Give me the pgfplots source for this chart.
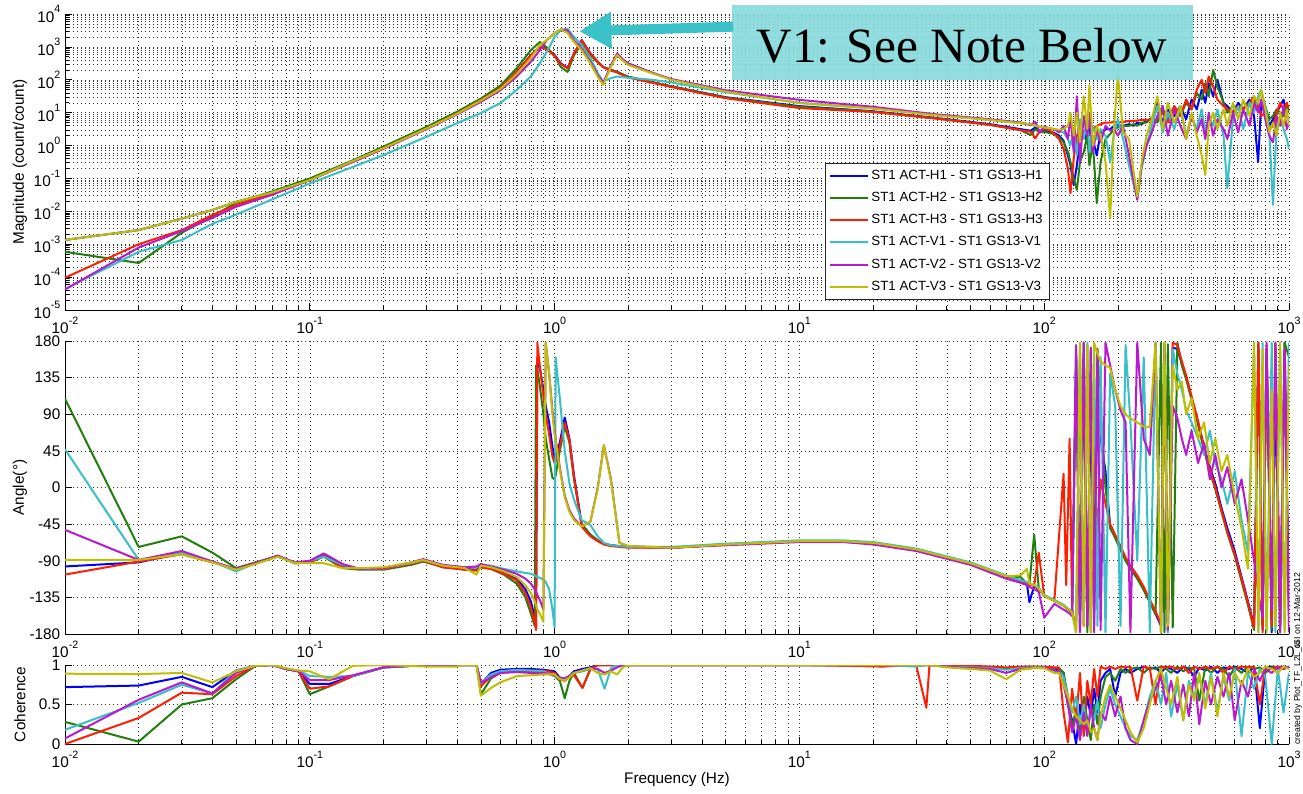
\documentclass[border=0pt]{standalone}
\usepackage{fontspec}
\setmainfont{Liberation Sans}
\newfontfamily\annofont{Liberation Serif}
\usepackage{pgfplots}
\usepackage{pgfplotstable}
\pgfplotsset{compat=1.18}
\usetikzlibrary{arrows.meta}

\definecolor{cH1}{rgb}{0,0,1}
\definecolor{cH2}{rgb}{0.13,0.5,0.05}
\definecolor{cH3}{rgb}{1,0.12,0}
\definecolor{cV1}{rgb}{0.22,0.75,0.78}
\definecolor{cV2}{rgb}{0.72,0.1,0.82}
\definecolor{cV3}{rgb}{0.75,0.75,0}
\definecolor{annofill}{HTML}{86D9DC}
\definecolor{annoarrow}{HTML}{3BC2C8}

% MATLAB-style power-of-ten tick label
\newcommand{\tp}[1]{10\raisebox{0.62em}{\fontsize{8}{8}\selectfont #1}}

% magnitude (count/count)
\pgfplotstableread{
f H1 H2 H3 V1 V2 V3
0.01 1.35e-3 5.89e-4 9.55e-5 4.37e-5 4.2e-5 1.35e-3
0.02 2.69e-3 2.69e-4 1.0e-3 5.89e-4 7.94e-4 2.69e-3
0.03 6.03e-3 2.24e-3 2.69e-3 1.35e-3 2.51e-3 6.03e-3
0.04 1.10e-2 7.08e-3 7.76e-3 4.17e-3 6.31e-3 1.10e-2
0.05 1.95e-2 1.82e-2 1.55e-2 7.94e-3 1.38e-2 1.95e-2
0.07 3.72e-2 3.98e-2 3.55e-2 2.29e-2 3.16e-2 3.72e-2
0.1 8.91e-2 1.0e-1 8.91e-2 7.08e-2 8.91e-2 8.91e-2
0.15 3.39e-1 3.55e-1 3.31e-1 2.24e-1 3.16e-1 3.39e-1
0.2 8.51e-1 9.33e-1 8.32e-1 5.13e-1 7.94e-1 8.32e-1
0.3 3.39 3.72 3.31 1.86 3.16 3.31
0.4 9.77 10.7 9.55 4.79 8.91 9.33
0.5 24.5 26.9 24.0 9.77 21.4 23.4
0.6 56.2 66.1 56.2 19.5 47.9 52.5
0.7 174 224 174 49.0 126 148
0.8 562 794 562 126 355 457
0.87 1000 1410 1000 316 794 1150
0.93 891 955 851 708 1620 1620
1.0 562 537 525 2000 2630 2630
1.06 316 245 302 3240 3390 3390
1.13 229 174 224 3550 3160 2630
1.2 631 562 631 2000 1580 1410
1.29 1620 1260 1580 1150 891 794
1.4 631 562 631 457 355 316
1.5 355 339 355 158 141 123
1.58 245 240 240 89.1 79.4 69.2
1.7 200 200 191 112 282 251
1.8 174 174 166 126 631 562
1.9 145 145 138 120 417 380
2.0 123 123 117 115 316 282
2.5 85.1 85.1 81.3 100 166 158
3 63.1 63.1 60.3 83.2 105 100
5 29.5 28.8 27.5 41.7 47.9 43.7
10 15.8 15.1 13.8 20.0 24.5 19.5
20 11.0 10.7 10.5 13.5 15.1 13.5
35 7.08 6.92 6.76 8.71 9.12 8.51
60 4.47 4.27 4.27 6.03 6.31 6.03
80 3.16 2.95 2.95 4.79 5.01 4.79
88 2.82 2.09 2.63 4.37 4.17 4.47
92 3.55 3.16 1.66 3.98 5.25 3.98
96 2.63 2.51 2.82 3.72 2.51 3.72
100 2.82 2.63 3.16 3.55 3.80 3.55
105 2.75 2.40 2.95 3.31 3.31 3.39
110 2.40 2.24 2.24 3.16 3.16 3.16
115 2.0 1.78 1.58 2.82 2.51 3.02
120 1.41 1.26 0.794 2.51 3.98 3.16
125 0.501 0.631 0.200 1.58 1.58 3.98
128 0.251 0.316 0.0355 1.0 7.94 10
132 0.0631 0.1 0.398 3.16 0.631 2.0
136 0.251 0.0447 2.0 0.501 31.6 10
140 1.58 0.316 3.16 6.31 0.316 1.26
145 2.51 0.631 2.51 1.58 7.94 31.6
150 1.26 2.0 3.55 7.94 2.0 3.16
153 3.16 0.251 3.98 0.631 10 69.2
158 1.58 1.26 3.16 3.98 0.631 1.0
164 0.501 0.0178 3.98 1.58 3.16 3.98
170 2.51 0.316 4.47 3.16 1.26 2.0
178 3.16 1.58 5.01 2.0 3.98 0.316
186 3.16 2.24 5.01 0.316 2.82 0.00631
193 3.98 3.16 5.25 2.51 3.16 3.98
200 4.17 3.55 5.01 6.31 2.0 141
210 3.98 3.98 5.25 1.58 3.98 2.51
222 4.47 3.98 5.62 0.251 0.501 1.58
232 3.98 4.47 5.62 0.0631 0.0794 0.158
240 5.01 3.98 5.75 0.0251 0.0224 0.0282
250 4.47 5.01 6.03 0.200 0.251 0.316
262 5.62 5.01 6.03 1.0 1.0 2.0
275 6.31 7.08 6.31 3.98 2.51 6.31
290 20.0 5.01 6.31 15.8 7.94 31.6
305 5.01 12.6 10 2.51 15.8 3.16
320 12.6 6.31 5.01 10 2.0 20.0
340 7.94 15.8 15.8 3.16 12.6 5.01
360 15.8 7.94 7.94 15.8 3.98 15.8
380 6.31 20.0 25.1 2.0 1.58 1.58
400 25.1 12.6 12.6 7.94 7.94 10
420 12.6 39.8 50.1 3.16 2.51 2.0
440 50.1 25.1 100 12.6 6.31 0.501
455 20.0 79.4 39.8 2.51 1.58 0.126
470 79.4 31.6 126 7.94 10 3.98
490 31.6 200 63.1 3.98 2.0 10
510 100 63.1 25.1 12.6 6.31 3.16
540 20.0 20.0 15.8 2.0 3.16 12.6
560 15.8 10 12.6 0.0501 1.58 3.98
590 10 15.8 10 6.31 10 20.0
620 20.0 12.6 15.8 15.8 2.51 6.31
650 12.6 20.0 12.6 3.16 12.6 25.1
690 25.1 15.8 20.0 20.0 3.98 7.94
720 7.94 25.1 31.6 10 20.0 31.6
748 0.316 12.6 15.8 31.6 10 20.0
770 20.0 20.0 7.94 50.1 25.1 50.1
800 10 15.8 10 15.8 6.31 12.6
830 3.98 6.31 3.16 3.16 2.0 2.51
860 6.31 7.94 3.98 0.0158 1.26 5.01
890 10 12.6 10 3.98 7.94 2.0
920 15.8 10 20.0 7.94 3.98 10
950 25.1 7.94 12.6 3.16 15.8 3.98
980 7.94 15.8 20.0 1.58 3.16 12.6
1000 6.31 10 12.6 0.794 5.01 3.98
}\magdata

% phase (degrees)
\pgfplotstableread{
f H1 H2 H3 V1 V2 V3
0.01 -97 109 -107 47 -52 -89
0.02 -92 -73 -91 -89 -89 -89
0.03 -80 -60 -82 -80 -78 -82
0.04 -91 -80 -92 -91 -91 -92
0.05 -101 -99 -100 -103 -100 -101
0.06 -93 -92 -93 -93 -93 -94
0.074 -84 -84 -84 -85 -84 -85
0.087 -93 -93 -93 -93 -92 -93
0.1 -91 -92 -92 -90 -90 -93
0.114 -82 -85 -84 -85 -81 -93
0.136 -96 -99 -98 -95 -94 -99
0.16 -100 -101 -100 -100 -100 -99
0.2 -100 -101 -100 -99 -99 -98
0.26 -94 -95 -94 -93 -92 -92
0.29 -90 -91 -90 -89 -88 -89
0.35 -98 -97 -98 -96 -95 -96
0.43 -100 -101 -101 -98 -98 -99
0.48 -101 -102 -102 -98 -97 -107
0.5 -97 -98 -98 -95 -94 -96
0.55 -99 -100 -100 -96 -97 -98
0.62 -104 -107 -106 -100 -101 -103
0.7 -112 -118 -114 -103 -106 -110
0.76 -125 -135 -130 -105 -112 -120
0.8 -140 -155 -147 -106 -118 -130
0.83 -160 -170 -167 -108 -125 -140
0.84 -172 150 -175 -109 -128 -145
0.85 160 145 178 -110 -132 -150
0.87 148 125 150 -111 -138 -155
0.9 120 90 112 -113 -150 -165
0.92 100 60 90 -116 178 178
0.95 80 35 65 -125 140 140
0.98 50 12 38 -150 95 90
1.0 36 10 30 -172 70 65
1.01 38 15 32 160 60 58
1.05 55 45 50 110 25 22
1.1 86 75 80 45 -10 -12
1.15 60 55 58 5 -28 -30
1.2 15 10 12 -15 -38 -40
1.29 -45 -45 -48 -40 -48 -48
1.4 -58 -58 -60 -46 -42 -42
1.5 -65 -65 -66 -60 0 -2
1.59 -69 -69 -70 -68 52 52
1.7 -71 -71 -72 -71 10 8
1.84 -72 -72 -73 -72 -68 -68
2 -73 -73 -74 -73 -72 -72
3 -74 -74 -74 -73 -74 -74
5 -70 -70 -70 -69 -71 -70
10 -66 -66 -66 -65 -67 -66
15 -66 -66 -66 -65 -67 -66
20 -68 -68 -68 -67 -70 -68
30 -76 -76 -76 -75 -78 -76
50 -93 -93 -93 -92 -95 -93
70 -109 -109 -109 -108 -112 -109
80 -114 -110 -115 -114 -117 -108
85 -118 -118 -118 -116 -120 -100
87 -141 -119 -119 -118 -122 -118
91 -121 -58 -121 -120 -125 -120
95 -125 -124 -80 -123 -128 -124
100 -133 -133 -133 -132 -160 -133
110 -139 -139 -139 -138 -143 -139
120 -145 -145 17 -144 -150 -145
123 -148 -148 -120 -147 -152 -148
127 -151 -151 60 -150 -155 -150
130 -154 -154 -150 -153 -158 -154
135 170 160 -175 -178 175 -178
140 -175 -170 165 172 -178 178
145 165 178 -170 -165 178 -170
150 -170 -178 175 178 -170 175
155 120 170 -178 -175 172 -178
160 -160 -120 60 170 -178 178
165 150 170 -60 -170 170 165
170 60 90 10 160 -175 155
178 20 0 -20 -178 178 150
186 -48 -50 -45 140 150 147
195 -60 -62 -58 100 120 120
205 -75 -77 -72 -170 95 100
215 -88 -90 -86 175 80 90
225 -98 -100 -96 80 -178 85
240 -110 -112 -108 -90 178 80
255 -125 -126 -122 160 60 75
270 -140 -141 -138 -178 40 74
285 -155 -156 -152 178 178 178
300 -170 178 -168 -175 -178 -178
310 175 -178 178 175 170 178
320 -178 176 -175 -178 -175 -170
335 172 -172 178 170 100 150
350 170 178 175 140 85 120
365 152 150 155 120 60 130
380 135 133 138 95 40 90
400 110 108 112 80 70 110
425 80 77 82 60 30 60
450 50 45 48 40 55 80
475 25 20 22 70 10 30
500 5 -2 0 30 40 60
530 -25 -30 -28 10 0 20
560 -50 -56 -55 -20 25 40
600 -78 -84 -82 20 -20 -10
640 -110 -115 -112 -40 10 -50
680 -140 -145 -142 -80 -40 -100
720 -170 -175 -172 175 -90 178
750 175 178 178 -178 -130 -178
780 -175 -170 -178 178 -160 170
810 170 165 175 -175 178 -178
850 -178 -175 -170 178 -150 120
880 120 175 178 -178 178 -170
920 -170 -178 -175 170 -178 178
960 178 178 170 -175 170 -178
1000 -150 160 -170 178 -178 150
}\phdata

% coherence
\pgfplotstableread{
f H1 H2 H3 V1 V2 V3
0.01 0.72 0.28 0.0 0.18 0.07 0.89
0.02 0.74 0.03 0.33 0.52 0.56 0.885
0.03 0.85 0.5 0.65 0.75 0.78 0.9
0.04 0.72 0.58 0.63 0.64 0.64 0.78
0.05 0.93 0.82 0.86 0.93 0.9 0.92
0.06 0.99 0.99 0.99 0.99 0.99 0.99
0.07 1 1 1 1 1 1
0.08 0.95 0.95 0.95 0.95 0.95 0.96
0.09 0.92 0.92 0.92 0.93 0.92 0.93
0.1 0.76 0.63 0.70 0.86 0.81 0.92
0.12 0.76 0.73 0.73 0.85 0.81 0.82
0.15 0.86 0.86 0.86 0.86 0.87 0.99
0.2 0.97 0.97 0.97 0.97 0.97 1
0.3 1 1 1 1 1 0.98
0.4 1 1 1 1 1 0.98
0.42 1 1 1 1 1 1
0.48 1 1 1 1 1 1
0.5 0.76 0.63 0.73 0.77 0.78 0.61
0.55 0.9 0.83 0.86 0.88 0.84 0.71
0.6 0.94 0.9 0.92 0.92 0.9 0.78
0.7 0.95 0.92 0.93 0.94 0.91 0.86
0.8 0.95 0.93 0.93 0.93 0.9 0.87
0.9 0.94 0.92 0.93 0.92 0.9 0.88
1.0 0.92 0.86 0.9 0.86 0.87 0.88
1.05 0.84 0.8 0.82 0.84 0.84 0.82
1.1 0.83 0.58 0.8 0.83 0.83 0.81
1.15 0.86 0.8 0.85 0.86 0.86 0.84
1.2 0.92 0.9 0.87 0.9 0.9 0.9
1.3 0.95 0.71 0.71 0.92 0.93 0.93
1.4 0.97 0.95 0.95 0.95 0.96 0.96
1.5 1 1 1 0.95 0.95 0.9
1.6 1 1 1 0.7 0.9 0.88
1.7 1 1 1 0.96 0.93 0.92
1.8 1 1 1 1 0.97 0.88
1.9 1 1 1 1 1 0.97
2 1 1 1 1 1 1
10 1 1 1 1 1 1
22 1 1 0.98 1 1 1
30 1 1 1 0.98 1 1
33 1 1 0.46 1 1 1
34 1 1 1 1 1 1
40 0.99 0.99 0.99 0.98 0.98 0.97
50 0.98 0.98 0.99 0.97 0.96 0.95
60 0.97 0.97 0.98 0.96 0.95 0.93
70 0.95 0.96 0.97 0.94 0.9 0.82
80 0.96 0.97 0.98 0.96 0.95 0.94
90 0.97 0.98 0.98 0.97 0.96 0.96
100 0.96 0.97 0.98 0.97 0.97 0.96
110 0.95 0.96 0.97 0.93 0.93 0.9
115 0.95 0.96 0.97 0.92 0.92 0.9
120 0.9 0.9 0.4 0.85 0.75 0.75
125 0.5 0.6 0.02 0.6 0.5 0.6
130 0.3 0.2 0.7 0.4 0.15 0.45
135 0.0 0.45 0.3 0.6 0.35 0.35
140 0.5 0.1 0.9 0.25 0.05 0.3
145 0.2 0.6 0.1 0.5 0.4 0.25
150 0.6 0.3 0.8 0.15 0.1 0.3
155 0.35 0.05 0.5 0.4 0.5 0.15
160 0.7 0.5 0.95 0.3 0.2 0.2
165 0.4 0.25 0.6 0.55 0.05 0.05
170 0.8 0.6 0.98 0.2 0.4 0.35
178 0.9 0.85 0.95 0.5 0.3 0.6
186 0.95 0.9 0.98 0.7 0.6 0.75
195 0.6 0.8 0.95 0.5 0.35 0.6
205 0.9 0.95 0.98 0.35 0.6 0.45
215 0.95 0.9 0.97 0.2 0.2 0.3
225 0.9 0.95 0.98 0.1 0.05 0.15
240 0.95 0.97 0.55 0.05 0.0 0.02
255 0.98 0.9 0.98 0.3 0.3 0.2
270 0.95 0.97 0.96 0.6 0.55 0.5
285 0.97 0.95 0.5 0.8 0.7 0.8
300 0.9 0.98 0.98 0.5 0.85 0.95
315 0.98 0.95 0.97 0.9 0.5 0.7
330 0.95 0.9 0.98 0.35 0.8 0.5
350 0.9 0.98 0.95 0.75 0.4 0.85
370 0.98 0.92 0.98 0.3 0.75 0.3
390 0.95 0.97 0.9 0.8 0.35 0.75
410 0.85 0.95 0.98 0.6 0.9 0.55
430 0.97 0.55 0.95 0.85 0.25 0.9
455 0.93 0.97 0.98 0.5 0.8 0.45
480 0.98 0.9 0.95 0.9 0.5 0.85
510 0.9 0.98 0.98 0.4 0.85 0.35
540 0.97 0.95 0.9 0.85 0.6 0.9
570 0.95 0.85 0.98 0.55 0.9 0.6
600 0.98 0.97 0.95 0.95 0.3 0.9
640 0.95 0.9 0.98 0.1 0.8 0.75
680 0.9 0.98 0.97 0.9 0.6 0.95
720 0.98 0.95 0.98 0.7 0.95 0.85
760 0.2 0.97 0.5 0.95 0.8 0.9
800 0.97 0.9 0.98 0.85 0.95 0.98
850 0.98 0.97 0.95 0.0 0.9 0.95
900 0.95 0.98 0.98 0.95 0.97 0.9
950 0.98 0.95 0.97 0.4 0.95 0.98
1000 0.97 0.98 0.96 0.9 0.98 0.95
}\cohdata

\newcommand{\sixplots}[1]{%
  \addplot[color=cH1, line width=1.5pt] table[x=f,y=H1]{#1};
  \addplot[color=cH2, line width=1.5pt] table[x=f,y=H2]{#1};
  \addplot[color=cH3, line width=1.5pt] table[x=f,y=H3]{#1};
  \addplot[color=cV1, line width=1.5pt] table[x=f,y=V1]{#1};
  \addplot[color=cV2, line width=1.5pt] table[x=f,y=V2]{#1};
  \addplot[color=cV3, line width=1.5pt] table[x=f,y=V3]{#1};
}

\pgfplotsset{
  every axis/.append style={
    scale only axis, width=918pt,
    xmin=0.01, xmax=1000,
    axis x line*=bottom, axis y line*=left,
    axis line style={-, black, line width=0.6pt},
    tick align=inside, tick style={black, line width=0.5pt},
    major tick length=5pt, minor tick length=3pt,
    xtick={0.01,0.1,1,10,100,1000},
    xticklabels={\tp{-2},\tp{-1},\tp{0},\tp{1},\tp{2},\tp{3}},
    minor xtick={0.02,0.03,0.04,0.05,0.06,0.07,0.08,0.09,0.2,0.3,0.4,0.5,0.6,0.7,0.8,0.9,2,3,4,5,6,7,8,9,20,30,40,50,60,70,80,90,200,300,400,500,600,700,800,900},
    grid=both,
    grid style={black!80, line width=0.4pt, dash pattern=on 0.7pt off 2.3pt},
    tick label style={font=\fontsize{11.5}{13}\selectfont},
    xticklabel style={yshift=-1.5pt},
    label style={font=\fontsize{11.5}{13}\selectfont},
    ylabel style={at={(axis description cs:-0.0368,0.5)}, anchor=center},
  },
  every axis plot/.append style={line join=round},
  legend image code/.code={\draw[#1, line width=1.5pt] (0pt,0pt) -- (28pt,0pt);},
}

\begin{document}
\begin{tikzpicture}
\path[use as bounding box] (0pt,0pt) rectangle (977.25pt,-594.75pt);

\begin{loglogaxis}[
  at={(48.75pt,-232.5pt)}, anchor=south west, height=222pt,
  ymin=1e-5, ymax=1e4,
  ytick={1e-5,1e-4,1e-3,1e-2,1e-1,1,1e1,1e2,1e3,1e4},
  yticklabels={\tp{-5},\tp{-4},\tp{-3},\tp{-2},\tp{-1},\tp{0},\tp{1},\tp{2},\tp{3},\tp{4}},
  minor ytick={2e-5,3e-5,4e-5,5e-5,6e-5,7e-5,8e-5,9e-5,2e-4,3e-4,4e-4,5e-4,6e-4,7e-4,8e-4,9e-4,2e-3,3e-3,4e-3,5e-3,6e-3,7e-3,8e-3,9e-3,2e-2,3e-2,4e-2,5e-2,6e-2,7e-2,8e-2,9e-2,0.2,0.3,0.4,0.5,0.6,0.7,0.8,0.9,2,3,4,5,6,7,8,9,20,30,40,50,60,70,80,90,200,300,400,500,600,700,800,900,2000,3000,4000,5000,6000,7000,8000,9000},
  ylabel={Magnitude (count/count)},
  legend cell align=left,
  legend style={at={(0.621,0.497)}, anchor=north west,
    font=\fontsize{10}{11}\selectfont, draw=black!85, line width=0.5pt,
    fill=white, inner xsep=3pt, inner ysep=3pt, row sep=4.2pt},
]
\sixplots{\magdata}
\legend{ST1 ACT-H1 - ST1 GS13-H1, ST1 ACT-H2 - ST1 GS13-H2, ST1 ACT-H3 - ST1 GS13-H3,
        ST1 ACT-V1 - ST1 GS13-V1, ST1 ACT-V2 - ST1 GS13-V2, ST1 ACT-V3 - ST1 GS13-V3}
\end{loglogaxis}

\begin{semilogxaxis}[
  at={(48.75pt,-475.5pt)}, anchor=south west, height=219.75pt,
  ymin=-180, ymax=180,
  ytick={-180,-135,-90,-45,0,45,90,135,180},
  yticklabels={-180,-135,-90,-45,0,45,90,135,180},
  ylabel={Angle(°)},
]
\sixplots{\phdata}
\end{semilogxaxis}

\begin{semilogxaxis}[
  at={(48.75pt,-558pt)}, anchor=south west, height=59.25pt,
  ymin=0, ymax=1,
  ytick={0,0.5,1}, yticklabels={0,0.5,1},
  ylabel={Coherence},
  xlabel={Frequency (Hz)},
  xlabel style={at={(axis description cs:0.5,0)}, anchor=center, yshift=-27pt},
]
\sixplots{\cohdata}
\end{semilogxaxis}

% annotation
\fill[annofill, opacity=0.9] (549pt,-3.75pt) rectangle (894.75pt,-60pt);
\node[anchor=base, inner sep=0pt] at (721.5pt,-46.5pt)
  {\annofont\fontsize{37}{40}\selectfont V1: See Note Below};
\draw[annoarrow, line width=7.5pt, -{Triangle[length=24pt,width=26pt]}]
  (549.75pt,-20pt) -- (434.5pt,-23.5pt);

\node[rotate=90, anchor=base west, inner sep=0pt] at (975pt,-558.75pt)
  {\fontsize{6.5}{7}\selectfont created by Plot\_TF\_L2L\_ISI on 12-Mar-2012};
\end{tikzpicture}
\end{document}
